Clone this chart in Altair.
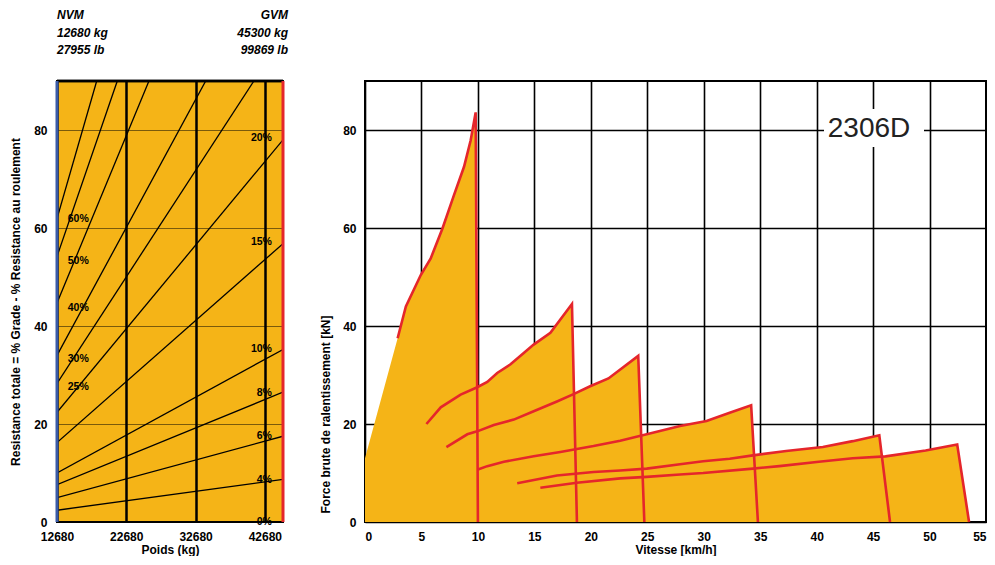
import altair as alt
import pandas as pd

ORANGE = "#F5B417"
RED = "#E5262B"
BLUE = "#3A5BA8"
FONT = "Liberation Sans"

# ---------------- Left chart data (grade / weight nomogram) ----------------
NVM_KG = 12680
GVM_KG = 45300
weight_ticks = [12680, 22680, 32680, 42680]
res_ticks = [0, 20, 40, 60, 80]
grades = ["4%", "6%", "8%", "10%", "15%", "20%", "25%", "30%", "40%", "50%", "60%"]
grade_start_val = [2.4, 4.95, 7.6, 10.0, 16.2, 22.4, 28.3, 34.0, 44.7, 54.2, 61.9]
grade_end_kg = [45300, 45300, 45300, 45300, 45300, 45300, 41100, 34140, 25950, 21380, 18410]
grade_end_val = [8.7, 17.5, 26.5, 35.2, 56.8, 78.0, 90, 90, 90, 90, 90]

left_labels = ["60%", "50%", "40%", "30%", "25%"]
left_label_val = [61.8, 53.3, 43.6, 33.3, 27.6]
left_label_kg = 14224
right_labels = ["20%", "15%", "10%", "8%", "6%", "4%", "0%"]
right_label_val = [78.3, 57.1, 35.3, 26.3, 17.5, 8.6, 0.0]
right_label_kg = 43705

nvm_text = "NVM\n12680 kg\n27955 lb"
gvm_text = "GVM\n45300 kg\n99869 lb"

# ---------------- Right chart data (retarder curves) ----------------
speed_ticks = list(range(0, 56, 5))
force_ticks = [0, 20, 40, 60, 80]
gear1_x = [2.89, 3.62, 4.94, 5.82, 6.86, 7.88, 8.77, 9.36, 9.80, 10.0]
gear1_y = [37.5, 44.0, 50.4, 53.8, 59.9, 66.7, 72.5, 77.9, 83.6, 0]
gear2_x = [5.44, 6.71, 8.47, 9.94, 10.83, 11.71, 12.89, 14.06, 14.94, 16.42, 18.33, 18.77]
gear2_y = [20.0, 23.4, 26.0, 27.5, 28.6, 30.4, 32.2, 34.5, 36.2, 38.6, 44.5, 0]
gear3_x = [7.21, 9.06, 9.94, 11.41, 13.18, 14.94, 17.0, 18.47, 19.94, 21.56, 24.2, 24.74]
gear3_y = [15.3, 17.9, 18.5, 19.8, 20.9, 22.6, 24.6, 26.1, 27.7, 29.3, 33.9, 0]
gear4_x = [10.0, 10.83, 12.3, 14.94, 17.3, 20.24, 22.6, 24.95, 27.9, 30.25, 32.3, 34.2, 34.8]
gear4_y = [10.7, 11.4, 12.3, 13.4, 14.3, 15.5, 16.6, 17.9, 19.6, 20.6, 22.3, 23.8, 0]
gear5_x = [13.48, 17.0, 20.24, 22.6, 24.95, 27.9, 29.95, 32.3, 34.36, 37.3, 40.55, 43.2, 45.55, 46.5]
gear5_y = [7.9, 9.5, 10.2, 10.5, 10.9, 11.8, 12.4, 12.9, 13.6, 14.5, 15.3, 16.5, 17.7, 0]
gear6_x = [15.53, 18.77, 22.6, 24.95, 27.9, 29.95, 34.36, 36.7, 40.2, 43.2, 46.1, 49.65, 52.45, 53.5]
gear6_y = [7.0, 8.0, 8.9, 9.2, 9.7, 10.0, 10.9, 11.4, 12.3, 13.0, 13.4, 14.6, 15.8, 0]

env_x = [0, 2.89, 3.62, 4.94, 5.82, 6.86, 7.88, 8.77, 9.36, 9.80,
         9.93, 10.83, 11.71, 12.89, 14.06, 14.94, 16.42, 18.33,
         18.51, 19.94, 21.56, 24.2,
         24.46, 24.95, 27.9, 30.25, 32.3, 34.2,
         34.45, 37.3, 40.55, 43.2, 45.55,
         45.8, 49.65, 52.45, 53.5]
env_y = [13, 37.5, 44.0, 50.4, 53.8, 59.9, 66.7, 72.5, 77.9, 83.6,
         27.5, 28.6, 30.4, 32.2, 34.5, 36.2, 38.6, 44.5,
         26.1, 27.7, 29.3, 33.9,
         17.6, 17.9, 19.6, 20.6, 22.3, 23.8,
         13.7, 14.5, 15.3, 16.5, 17.7,
         13.4, 14.6, 15.8, 0]

model_name = "2306D"

# ---------------- Build tables ----------------
grade_rows = []
for g, s, ek, ev in zip(grades, grade_start_val, grade_end_kg, grade_end_val):
    grade_rows.append({"grade": g, "w": NVM_KG, "v": s, "o": 0})
    grade_rows.append({"grade": g, "w": ek, "v": ev, "o": 1})
grade_df = pd.DataFrame(grade_rows)
ll_df = pd.DataFrame({"label": left_labels, "v": left_label_val, "w": left_label_kg})
rl_df = pd.DataFrame({"label": right_labels, "v": right_label_val, "w": right_label_kg})
edge_df = pd.DataFrame({"w": [NVM_KG, GVM_KG], "c": [BLUE, RED]})

gear_rows = []
for gi, (gx, gy) in enumerate([(gear1_x, gear1_y), (gear2_x, gear2_y), (gear3_x, gear3_y),
                               (gear4_x, gear4_y), (gear5_x, gear5_y), (gear6_x, gear6_y)]):
    for i, (a, b) in enumerate(zip(gx, gy)):
        gear_rows.append({"gear": gi + 1, "x": a, "y": b, "i": i})
gear_df = pd.DataFrame(gear_rows)
env_df = pd.DataFrame({"x": env_x, "y": env_y})

PLOT_H = 441

# ---------------- Left chart ----------------
wx = alt.X("w:Q", scale=alt.Scale(domain=[NVM_KG, GVM_KG], nice=False, zero=False),
           axis=alt.Axis(values=weight_ticks, format="d", title="Poids (kg)", grid=True,
                         gridColor="black", gridWidth=2.5, ticks=False, labelPadding=9,
                         titlePadding=2, domain=False, labelFlush=False))
vy = alt.Y("v:Q", scale=alt.Scale(domain=[0, 90], nice=False),
           axis=alt.Axis(values=res_ticks, grid=True, gridColor="#000000", gridOpacity=0.5,
                         gridWidth=1, ticks=False, labelPadding=10, titlePadding=11,
                         title="Resistance totale = % Grade - % Resistance au roulement",
                         domain=False))

lines_l = alt.Chart(grade_df).mark_line(color="black", strokeWidth=1.3, clip=True).encode(
    x=wx, y=vy, detail="grade:N", order="o:Q")
edges = alt.Chart(edge_df).mark_rule(strokeWidth=3).encode(
    x="w:Q", color=alt.Color("c:N", scale=None))
top_rule = alt.Chart(edge_df).mark_rule(strokeWidth=2.5, color="black").encode(
    y=alt.datum(90))
ll_text = alt.Chart(ll_df).mark_text(align="left", font=FONT, fontWeight="bold", fontSize=10.5,
                                     color="black").encode(x="w:Q", y="v:Q", text="label:N")
rl_text = alt.Chart(rl_df).mark_text(align="right", font=FONT, fontWeight="bold", fontSize=10.5,
                                     color="black").encode(x="w:Q", y="v:Q", text="label:N")
nvm = alt.Chart(pd.DataFrame({"w": [NVM_KG], "t": [nvm_text]})).mark_text(
    align="left", baseline="top", font=FONT, fontWeight="bold", fontStyle="italic",
    fontSize=12, lineBreak="\n", lineHeight=17.5, color="black").encode(
    x="w:Q", y=alt.value(-71), text="t:N")
gvm = alt.Chart(pd.DataFrame({"w": [GVM_KG], "t": [gvm_text]})).mark_text(
    align="right", baseline="top", font=FONT, fontWeight="bold", fontStyle="italic",
    fontSize=12, lineBreak="\n", lineHeight=17.5, color="black", dx=5).encode(
    x="w:Q", y=alt.value(-71), text="t:N")

left = alt.layer(lines_l, top_rule, edges, ll_text, rl_text, nvm, gvm).properties(
    width=226, height=PLOT_H,
    view=alt.ViewBackground(fill=ORANGE, stroke="black", strokeWidth=2))

# ---------------- Right chart ----------------
sx = alt.X("x:Q", scale=alt.Scale(domain=[0, 55], nice=False),
           axis=alt.Axis(values=speed_ticks, grid=True, gridColor="black", gridWidth=1.6,
                         ticks=False, labelPadding=9, title="Vitesse [km/h]", titlePadding=2,
                         domain=False, labelFlush=True))
fy = alt.Y("y:Q", scale=alt.Scale(domain=[0, 90], nice=False),
           axis=alt.Axis(values=force_ticks, grid=True, gridColor="black", gridWidth=1.6,
                         ticks=False, labelPadding=9, title="Force brute de ralentissement [kN]",
                         titleY=333, titlePadding=10, domain=False))

area = alt.Chart(env_df).mark_area(color=ORANGE, opacity=1).encode(x=sx, y=fy)
box = alt.Chart(env_df).mark_rect(color="white").encode(
    x=alt.value(459), x2=alt.value(559), y=alt.value(28), y2=alt.value(66))
gear_lines = alt.Chart(gear_df).mark_line(color=RED, strokeWidth=2.6).encode(
    x="x:Q", y="y:Q", detail="gear:N", order="i:Q")
name = alt.Chart(pd.DataFrame({"t": [model_name]})).mark_text(
    font=FONT, fontSize=28, color="#222222", align="center", baseline="middle").encode(
    x=alt.value(504), y=alt.value(48), text="t:N")

right = alt.layer(area, box, gear_lines, name).properties(
    width=621, height=PLOT_H,
    view=alt.ViewBackground(fill="white", stroke="black", strokeWidth=2))

chart = alt.hconcat(left, right, spacing=29, padding=0).configure_axis(
    labelFont=FONT, labelFontWeight="bold", labelFontSize=12, labelColor="black",
    titleFont=FONT, titleFontWeight="bold", titleFontSize=12, titleColor="black"
)

chart.save("out.html", embed_options={"renderer": "svg", "actions": False})
